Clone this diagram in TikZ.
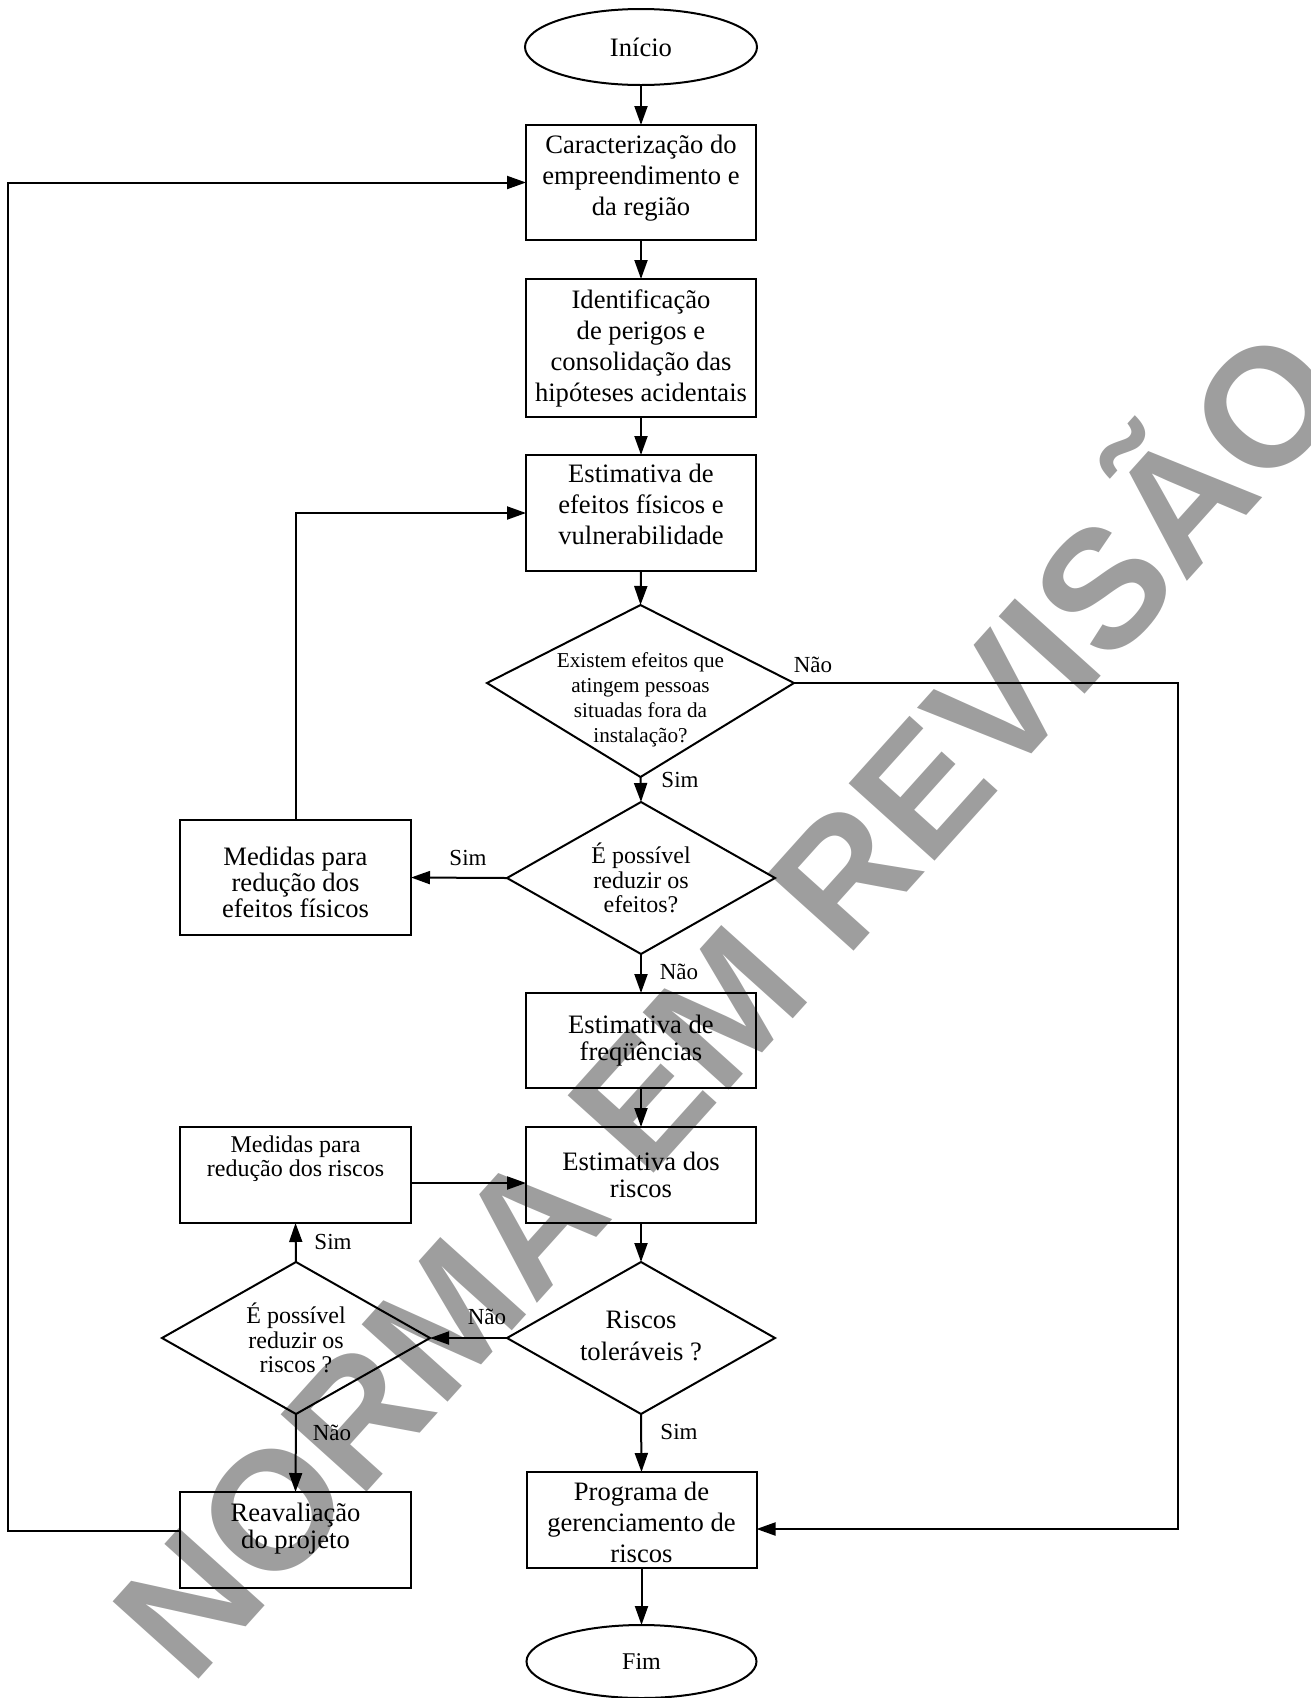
\documentclass[tikz,border=0pt]{standalone}
\usepackage{fontspec}
\setmainfont{Liberation Serif}
\newfontfamily\wmfont{Liberation Sans}
\usetikzlibrary{shapes.geometric,arrows.meta,calc}
\definecolor{wmgray}{RGB}{158,158,158}
\newcommand\mainsize{\fontsize{13.3}{15.5}\selectfont}
\newcommand\smallsize{\fontsize{12}{12.2}\selectfont}

\begin{document}
\begin{tikzpicture}[x=0.5pt, y=-0.5pt,
  every node/.style={inner sep=0pt, outer sep=0pt},
  arr/.style={line width=1pt, -{Triangle[length=9.5pt,width=6.5pt]}},
  link/.style={line width=1pt},
  frame/.style={draw, line width=1pt, minimum width=115pt},
  box/.style={frame, align=center, font=\mainsize},
  btext/.style={align=center, font=\mainsize},
  term/.style={draw, ellipse, line width=1pt, font=\mainsize},
  decision/.style={draw, diamond, line width=1pt},
  qtext/.style={align=center, font=\smallsize},
  lbl/.style={font=\fontsize{11.5}{13}\selectfont}
]
\useasboundingbox (0,0) rectangle (1311,1698);

% watermark behind the chart
\node[rotate=48, text=wmgray, font=\wmfont\bfseries\fontsize{84}{84}\selectfont] (wm) at (717,993) {NORMA EM REVISÃO};

% main column
\node[term, minimum width=116pt, minimum height=38pt] (ini) at (641,47) {Início};
\node[frame, minimum height=57.5pt] (car) at (641,182.5) {};
\node[btext] (cart) at (641,178) {Caracterização do\\empreendimento e\\da região};
\node[box, minimum height=69pt] (ident) at (641,348) {Identificação\\de perigos e\\consolidação das\\hipóteses acidentais};
\node[frame, minimum height=58pt] (eff) at (641,513) {};
\node[btext] (efft) at (641,504.5) {Estimativa de\\efeitos físicos e\\vulnerabilidade};

% first decision (upper half shorter than lower half)
\coordinate (d1n) at (640.5,605);
\coordinate (d1e) at (794,683);
\coordinate (d1s) at (640.5,777);
\coordinate (d1w) at (487,683);
\draw[line width=1pt, line join=miter] (d1n) -- (d1e) -- (d1s) -- (d1w) -- cycle;
\node[qtext, font=\fontsize{10.6}{12.5}\selectfont] (d1t) at (640.5,699.5) {Existem efeitos que\\atingem pessoas\\situadas fora da\\instalação?};

\node[decision, minimum width=134pt, minimum height=76pt] (d2) at (641,878) {};
\node[qtext] (d2t) at (641,878) {É possível\\reduzir os\\efeitos?};

\node[box, minimum height=47.5pt, font=\fontsize{13.3}{13.5}\selectfont] (freq) at (641,1040.5) {Estimativa de\\freqüências};
\node[box, minimum height=48pt, font=\fontsize{13.3}{13.5}\selectfont] (estr) at (641,1175) {Estimativa dos\\riscos};

\node[decision, minimum width=134pt, minimum height=76pt] (d4) at (641,1338) {};
\node[qtext, font=\fontsize{13.3}{16}\selectfont] (d4t) at (641,1336) {Riscos\\toleráveis ?};

\node[frame, minimum height=48pt] (prog) at (641.5,1520) {};
\node[btext] (progt) at (641.5,1522) {Programa de\\gerenciamento de\\riscos};
\node[term, minimum width=115pt, minimum height=36.5pt, font=\fontsize{12}{14}\selectfont] (fim) at (641.5,1661.5) {Fim};

% left column
\node[frame, minimum width=115.5pt, minimum height=57.5pt] (mef) at (295.5,877.5) {};
\node[btext, font=\fontsize{13.3}{13}\selectfont] (meft) at (295.5,882) {Medidas para\\redução dos\\efeitos físicos};
\node[frame, minimum width=115.5pt, minimum height=48pt] (mrr) at (295.5,1175) {};
\node[qtext] (mrrt) at (295.5,1159) {Medidas para\\redução dos riscos};

\node[decision, minimum width=134pt, minimum height=76pt] (d3) at (296,1338) {};
\node[qtext] (d3t) at (296,1338) {É possível\\reduzir os\\riscos ?};

\node[frame, minimum width=115.5pt, minimum height=48pt] (reav) at (295.5,1540) {};
\node[qtext, font=\fontsize{13.3}{13.5}\selectfont] (reavt) at (295.5,1528.5) {Reavaliação\\do projeto};

% return rails
\coordinate (rail) at (1178,0);
\coordinate (lrail) at (8,0);

% connectors down the main column
\draw[arr] (ini.south) -- (car.north);
\draw[arr] (car.south) -- (ident.north);
\draw[arr] (ident.south) -- (eff.north);
\draw[arr] (eff.south) -- (d1n);
\draw[arr] (d1s) -- (d2.north);
\draw[arr] (d2.south) -- (freq.north);
\draw[arr] (freq.south) -- (estr.north);
\draw[arr] (estr.south) -- (d4.north);
\draw[arr] (d4.south) -- (prog.north);
\draw[arr] (prog.south) -- (fim.north);

% branches
\draw[arr] (d2.west) -- (mef.east);
\draw[arr] (mef.north) |- (eff.west);
\draw[arr] (d4.west) -- (d3.east);
\draw[arr] (d3.north) -- (mrr.south);
\draw[arr] (d3.south) -- (reav.north);
\draw[arr] ([shift={(0,8)}]mrr.east) coordinate (mrrout) -- (mrrout -| estr.west);
\coordinate (progin) at ([shift={(0,9)}]prog.east);
\draw[arr] (d1e) -- (d1e -| rail) -- (rail |- progin) -- (progin);
\draw[arr] ([shift={(0,-9)}]reav.west) coordinate (reavout) -- (reavout -| lrail) -- (lrail |- car.west) -- (car.west);

% branch labels
\node[lbl] (l1) at (813,665) {Não};
\node[lbl] (l2) at (680,780) {Sim};
\node[lbl] (l3) at (468,858) {Sim};
\node[lbl] (l4) at (679,972) {Não};
\node[lbl] (l5) at (333,1242) {Sim};
\node[lbl] (l6) at (487,1317) {Não};
\node[lbl] (l7) at (332,1433) {Não};
\node[lbl] (l8) at (679,1432) {Sim};
\end{tikzpicture}
\end{document}
